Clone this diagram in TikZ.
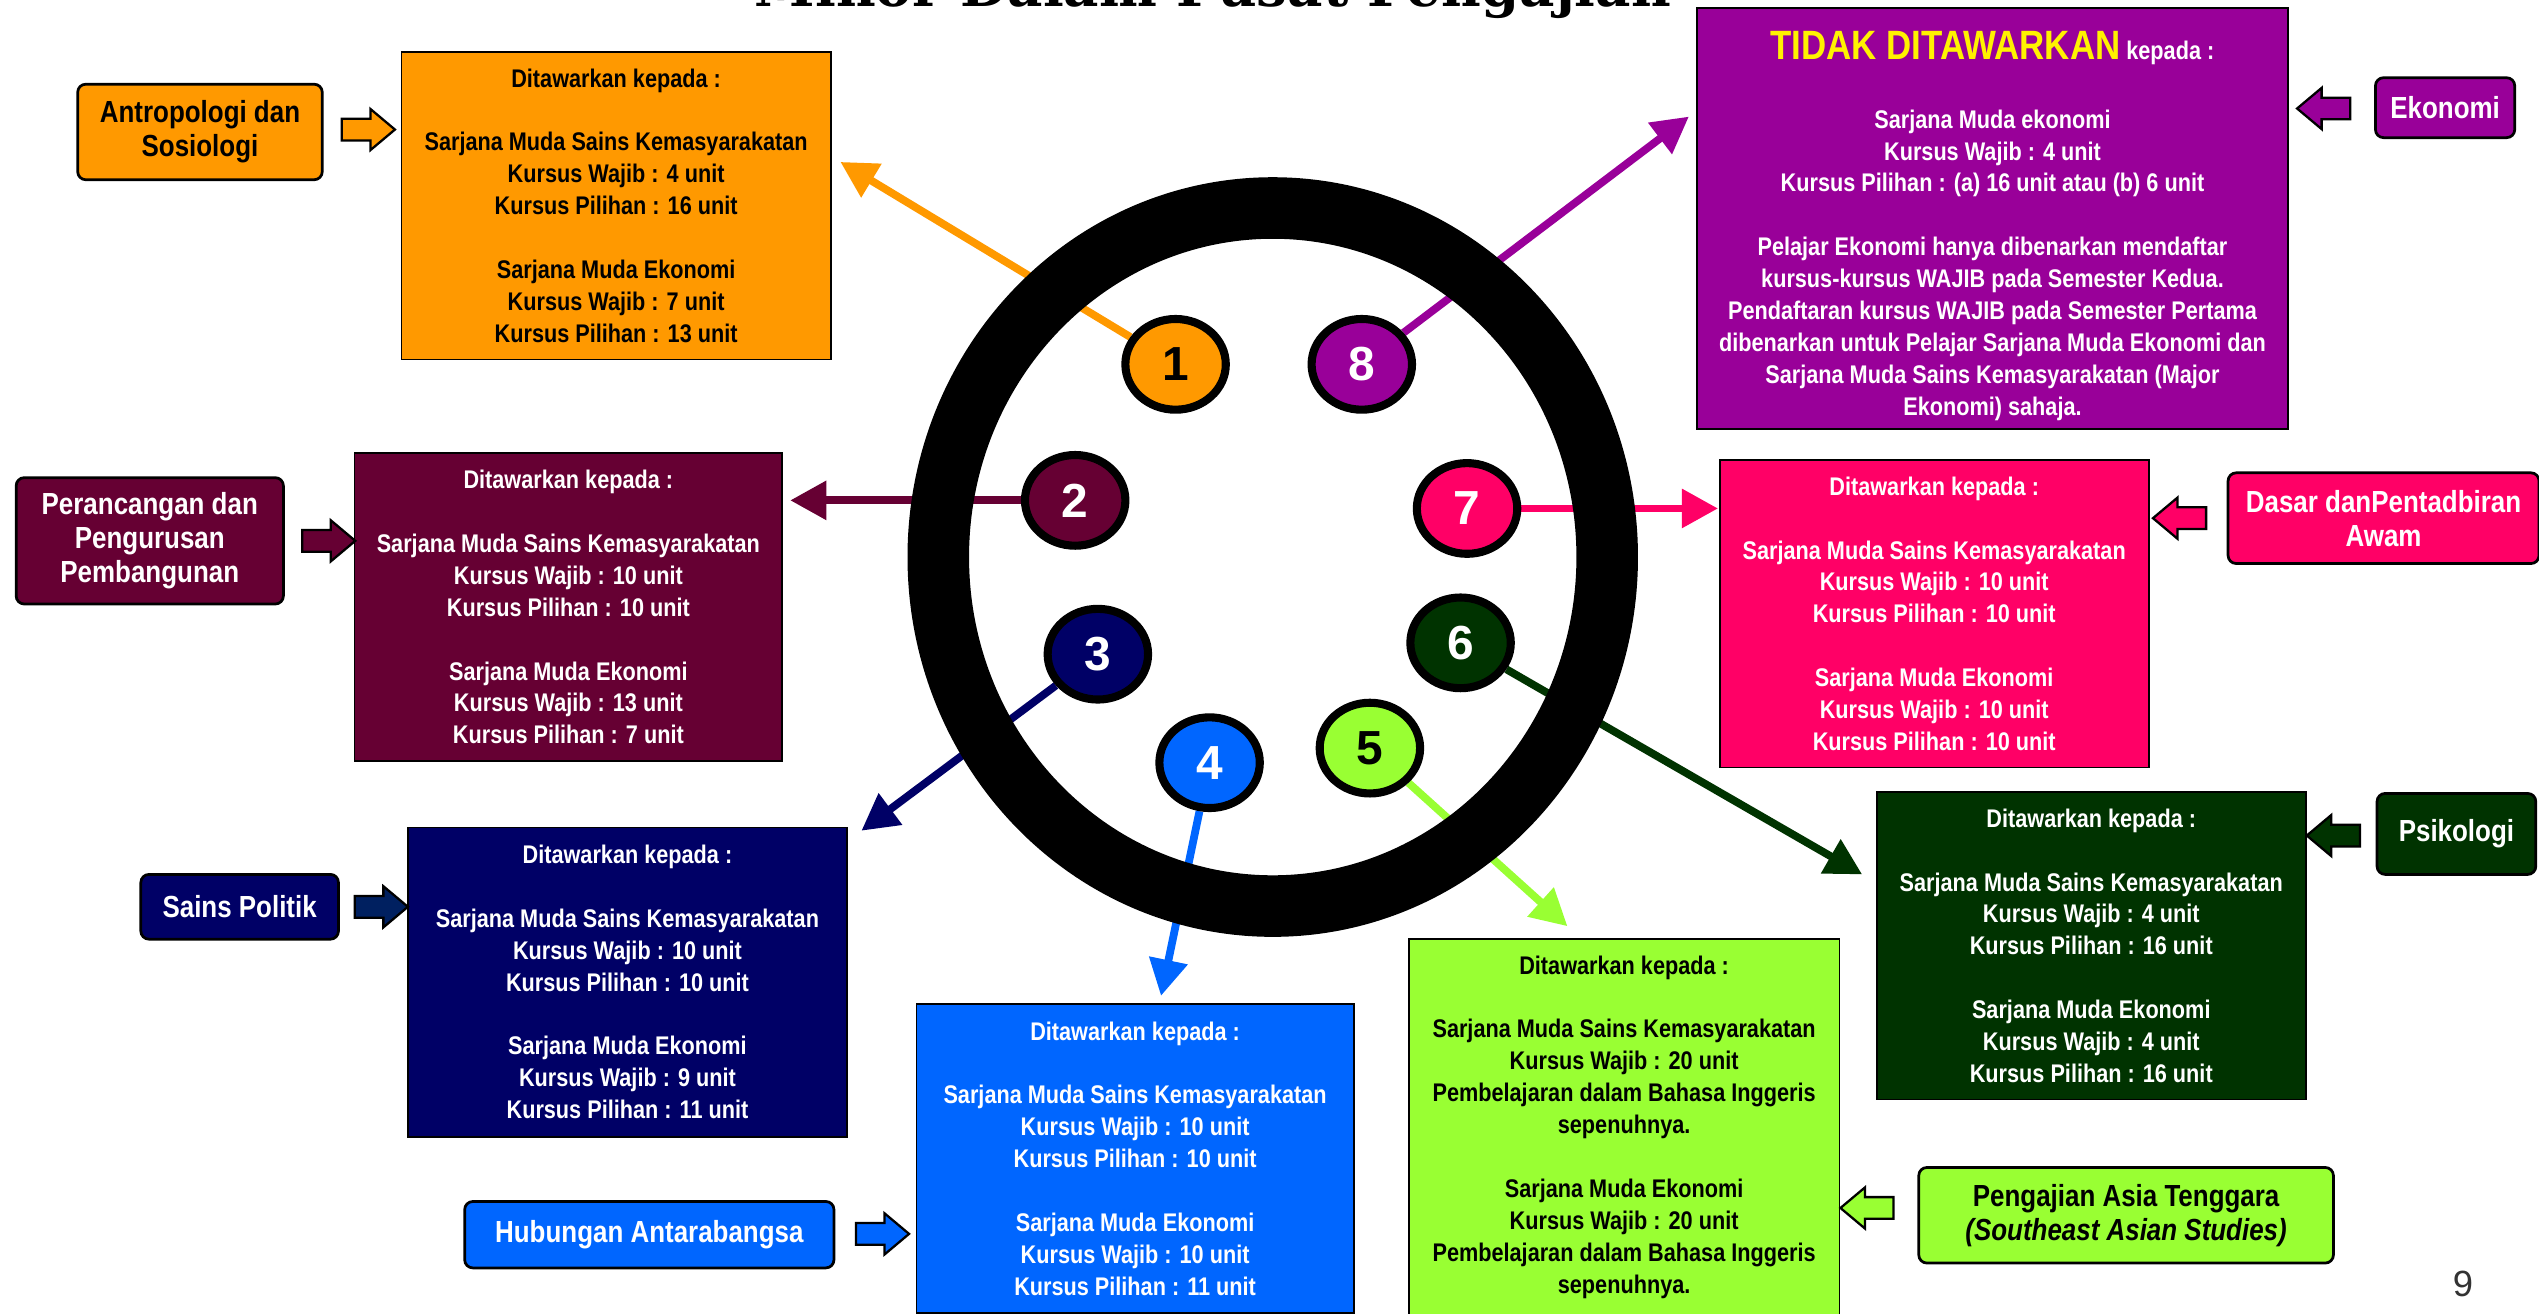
\documentclass[tikz,border=0pt]{standalone}
\usepackage{fontspec}
\setmainfont{Liberation Sans}[FakeStretch=0.85]
\newfontfamily\numfont{Liberation Sans}
\newfontfamily\titlefont{DejaVu Serif}
\usepackage{xcolor}
\usepackage{tikz}
\usetikzlibrary{shapes,arrows.meta,positioning,backgrounds}

\definecolor{minorange}{HTML}{FF9900}
\definecolor{minmaroon}{HTML}{660033}
\definecolor{minnavy}{HTML}{000066}
\definecolor{minnavyarrow}{HTML}{002060}
\definecolor{minblue}{HTML}{0066FF}
\definecolor{minlime}{HTML}{99FF33}
\definecolor{mingreen}{HTML}{003300}
\definecolor{minpink}{HTML}{FF0066}
\definecolor{minpurple}{HTML}{990099}

\newcommand{\skipline}{\\[14pt]}

\tikzset{
  infobox/.style={draw=black, line width=0.8pt, inner sep=0pt, align=center,
    font=\fontsize{11.2}{14}\selectfont\bfseries},
  deptbox/.style={draw=black, line width=1.2pt, rounded corners=0.125cm, inner sep=0pt,
    align=center, font=\fontsize{13.4}{15}\selectfont\bfseries},
  blockarrow/.style={single arrow, draw=black, line width=1pt, inner xsep=0pt, inner ysep=0.15cm,
    minimum height=0.82cm, single arrow head extend=0.15cm, single arrow tip angle=80},
  numnode/.style={ellipse, draw=black, line width=0.125cm, inner sep=0pt,
    minimum width=1.55cm, minimum height=1.4cm,
    font=\numfont\bfseries\fontsize{21}{21}\selectfont},
  conn/.style={line width=0.12cm, -{Triangle[length=0.56cm,width=0.58cm]}}
}

\begin{document}
\begin{tikzpicture}[x=0.025cm, y=-0.025cm]
    \useasboundingbox (0,0) rectangle (1568,811);

    % Title (only its lower part is on the page)
    \node[anchor=base] (title) at (749,4) {\titlefont\bfseries\fontsize{24}{24}\selectfont Minor Dalam Pusat Pengajian};

    % Numbered members inside the ring
    \node[numnode, fill=minorange, text=black] (n1) at (726,225) {1};
    \node[numnode, fill=minmaroon, text=white] (n2) at (664,309) {2};
    \node[numnode, fill=minnavy, text=white] (n3) at (678,404) {3};
    \node[numnode, fill=minblue, text=white] (n4) at (747,471) {4};
    \node[numnode, fill=minlime, text=black] (n5) at (846,462) {5};
    \node[numnode, fill=mingreen, text=white] (n6) at (902,397) {6};
    \node[numnode, fill=minpink, text=white] (n7) at (906,314) {7};
    \node[numnode, fill=minpurple, text=white] (n8) at (841,225) {8};

    % Offer boxes
    \node[infobox, fill=minorange, text=black, minimum width=6.625cm, minimum height=4.75cm] (b1) at (380.5,127)
      {Ditawarkan kepada :\skipline Sarjana Muda Sains Kemasyarakatan\\ Kursus Wajib : 4 unit\\ Kursus Pilihan : 16 unit\skipline
       Sarjana Muda Ekonomi\\ Kursus Wajib : 7 unit\\ Kursus Pilihan : 13 unit};
    \node[infobox, fill=minmaroon, text=white, minimum width=6.6cm, minimum height=4.75cm] (b2) at (351,375)
      {Ditawarkan kepada :\skipline Sarjana Muda Sains Kemasyarakatan\\ Kursus Wajib : 10 unit\\ Kursus Pilihan : 10 unit\skipline
       Sarjana Muda Ekonomi\\ Kursus Wajib : 13 unit\\ Kursus Pilihan : 7 unit};
    \node[infobox, fill=minnavy, text=white, minimum width=6.775cm, minimum height=4.775cm] (b3) at (387.5,606.5)
      {Ditawarkan kepada :\skipline Sarjana Muda Sains Kemasyarakatan\\ Kursus Wajib : 10 unit\\ Kursus Pilihan : 10 unit\skipline
       Sarjana Muda Ekonomi\\ Kursus Wajib : 9 unit\\ Kursus Pilihan : 11 unit};
    \node[infobox, fill=minblue, text=white, minimum width=6.75cm, minimum height=4.775cm] (b4) at (701,715.5)
      {Ditawarkan kepada :\skipline Sarjana Muda Sains Kemasyarakatan\\ Kursus Wajib : 10 unit\\ Kursus Pilihan : 10 unit\skipline
       Sarjana Muda Ekonomi\\ Kursus Wajib : 10 unit\\ Kursus Pilihan : 11 unit};
    \node[infobox, fill=minlime, text=black, minimum width=6.65cm, minimum height=5.8cm] (b5) at (1003,696)
      {Ditawarkan kepada :\skipline Sarjana Muda Sains Kemasyarakatan\\ Kursus Wajib : 20 unit\\ Pembelajaran dalam Bahasa Inggeris\\ sepenuhnya.\skipline
       Sarjana Muda Ekonomi\\ Kursus Wajib : 20 unit\\ Pembelajaran dalam Bahasa Inggeris\\ sepenuhnya.};
    \node[infobox, fill=mingreen, text=white, minimum width=6.625cm, minimum height=4.75cm] (b6) at (1291.5,584)
      {Ditawarkan kepada :\skipline Sarjana Muda Sains Kemasyarakatan\\ Kursus Wajib : 4 unit\\ Kursus Pilihan : 16 unit\skipline
       Sarjana Muda Ekonomi\\ Kursus Wajib : 4 unit\\ Kursus Pilihan : 16 unit};
    \node[infobox, fill=minpink, text=white, minimum width=6.625cm, minimum height=4.75cm] (b7) at (1194.5,379)
      {Ditawarkan kepada :\skipline Sarjana Muda Sains Kemasyarakatan\\ Kursus Wajib : 10 unit\\ Kursus Pilihan : 10 unit\skipline
       Sarjana Muda Ekonomi\\ Kursus Wajib : 10 unit\\ Kursus Pilihan : 10 unit};
    \node[infobox, fill=minpurple, text=white, minimum width=9.125cm, minimum height=6.5cm] (b8) at (1230.5,135)
      {\rule{0pt}{18.6pt}{\color{yellow}\fontsize{18}{20}\selectfont TIDAK DITAWARKAN} kepada :\\[16.3pt]
       Sarjana Muda ekonomi\\ Kursus Wajib : 4 unit\\ Kursus Pilihan : (a) 16 unit atau (b) 6 unit\skipline
       Pelajar Ekonomi hanya dibenarkan mendaftar\\ kursus-kursus WAJIB pada Semester Kedua.\\
       Pendaftaran kursus WAJIB pada Semester Pertama\\ dibenarkan untuk Pelajar Sarjana Muda Ekonomi dan\\
       Sarjana Muda Sains Kemasyarakatan (Major\\ Ekonomi) sahaja.};

    % Department labels
    \node[deptbox, fill=minorange, text=black, minimum width=3.775cm, minimum height=1.475cm] (l1) at (123.5,81.5) {Antropologi dan\\Sosiologi};
    \node[deptbox, fill=minmaroon, text=white, minimum width=4.125cm, minimum height=1.95cm] (l2) at (92.5,334) {Perancangan dan\\Pengurusan\\Pembangunan};
    \node[deptbox, fill=minnavy, text=white, minimum width=3.05cm, minimum height=1cm] (l3) at (148,560) {Sains Politik};
    \node[deptbox, fill=minblue, text=white, minimum width=5.7cm, minimum height=1.025cm] (l4) at (401,762.5) {Hubungan Antarabangsa};
    \node[deptbox, fill=minlime, text=black, minimum width=6.4cm, minimum height=1.475cm] (l5) at (1313,750.5) {Pengajian Asia Tenggara\\\itshape(Southeast Asian Studies)};
    \node[deptbox, fill=mingreen, text=white, minimum width=2.45cm, minimum height=1.25cm] (l6) at (1517,515) {Psikologi};
    \node[deptbox, fill=minpink, text=white, minimum width=4.8cm, minimum height=1.4cm] (l7) at (1472,320) {Dasar danPentadbiran\\Awam};
    \node[deptbox, fill=minpurple, text=white, minimum width=2.15cm, minimum height=0.925cm] (l8) at (1510,66.5) {Ekonomi};

    % Block arrows from labels to boxes
    \node[blockarrow, fill=minorange] (a1) at (223.5,80) {};
    \node[blockarrow, fill=minmaroon] (a2) at (199,334) {};
    \node[blockarrow, fill=minnavyarrow] (a3) at (231.5,560) {};
    \node[blockarrow, fill=minblue] (a4) at (541,762) {};
    \node[blockarrow, fill=minlime, shape border rotate=180] (a5) at (1157,746) {};
    \node[blockarrow, fill=mingreen, shape border rotate=180] (a6) at (1445,516) {};
    \node[blockarrow, fill=minpink, shape border rotate=180] (a7) at (1350,320) {};
    \node[blockarrow, fill=minpurple, shape border rotate=180] (a8) at (1439,67) {};

    % Arrow tips next to the boxes
    \coordinate (t1) at (519,100);
    \coordinate (t2) at (488,309);
    \coordinate (t3) at (532,513);
    \coordinate (t4) at (717,615);
    \coordinate (t5) at (968,572);
    \coordinate (t6) at (1150,540);
    \coordinate (t7) at (1061,314);
    \coordinate (t8) at (1043,72);
    \coordinate (hub) at (786,344);

    \begin{pgfonlayer}{background}
      \draw[conn, minorange] (n1) -- (t1);
      \draw[conn, minmaroon] (n2) -- (t2);
      \draw[conn, minnavy] (n3) -- (t3);
      \draw[conn, minblue] (n4) -- (t4);
      \draw[conn, minlime] (n5) -- (t5);
      \draw[conn, mingreen] (n6) -- (t6);
      \draw[conn, minpink] (n7) -- (t7);
      \draw[conn, minpurple] (n8) -- (t8);
      % the ring
      \draw[line width=0.95cm] (hub) ellipse [x radius=5.1625cm, y radius=5.3875cm];
    \end{pgfonlayer}

    \node[text=black!80] (pagenum) at (1521,793) {\numfont\fontsize{16}{16}\selectfont 9};
\end{tikzpicture}
\end{document}
